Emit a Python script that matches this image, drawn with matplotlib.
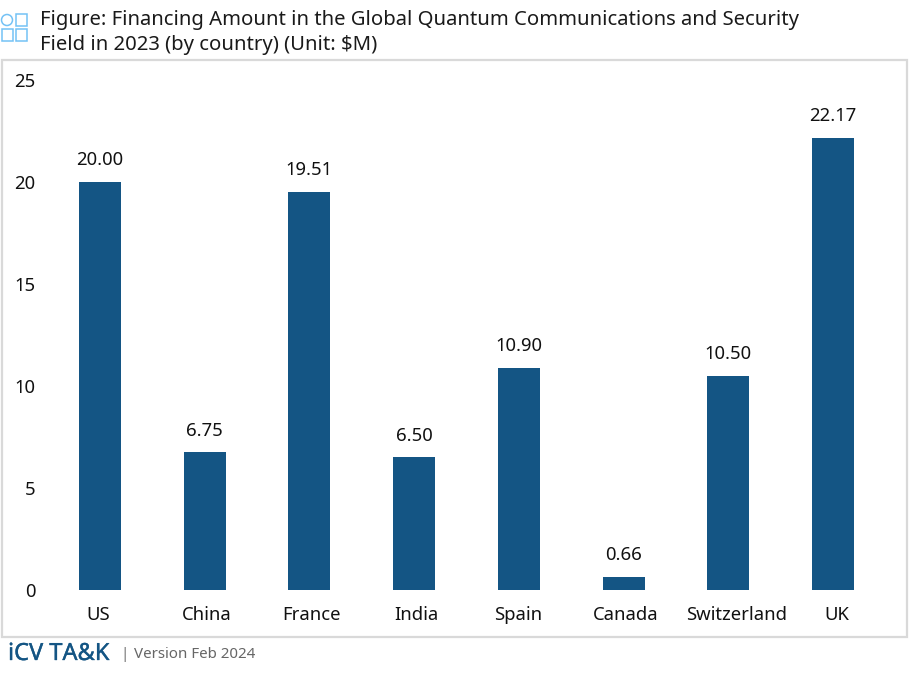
import matplotlib
matplotlib.use("Agg")
import matplotlib.pyplot as plt
import matplotlib.patheffects as pe
from matplotlib.patches import Ellipse, Rectangle
from matplotlib.transforms import ScaledTranslation

countries = ["US", "China", "France", "India", "Spain", "Canada", "Switzerland", "UK"]
amounts = [20.00, 6.75, 19.51, 6.50, 10.90, 0.66, 10.50, 22.17]
y_ticks = [0, 5, 10, 15, 20, 25]
title_lines = ["Figure: Financing Amount in the Global Quantum Communications and Security",
               "Field in 2023 (by country) (Unit: $M)"]

W, H = 909, 681
plt.rcParams['font.family'] = ['Noto Sans', 'DejaVu Sans']

fig = plt.figure(figsize=(W / 100, H / 100), dpi=100)


def fx(px):
    return px / W


def fy(px):
    return 1 - px / H


# outer frame, behind the axes
fig.add_artist(Rectangle((fx(2), fy(636.5)), fx(905), (636.5 - 60) / H, transform=fig.transFigure,
                         fc='white', ec='#d9d9d9', lw=1.6, zorder=-1))

# chart
ax = fig.add_axes([fx(47.5), fy(590), fx(838), (590 - 80) / H])
ax.patch.set_alpha(0)
x = range(len(countries))
bars = ax.bar(x, amounts, width=0.4, color='#145584')
ax.bar_label(bars, labels=[f"{v:.2f}" for v in amounts], padding=9, fontsize=13.3, color='#111111')
ax.set_xlim(-0.5, len(countries) - 0.5)
ax.set_ylim(0, 25)
ax.set_xticks(list(x), countries)
ax.set_yticks(y_ticks)
ax.tick_params(axis='both', length=0, labelsize=13.3, labelcolor='#111111')
ax.tick_params(axis='x', pad=11.5)
ax.tick_params(axis='y', pad=8.5)
for s in ax.spines.values():
    s.set_visible(False)

# x labels are not quite centred under the bars in the original
label_shift = [-1.5, 2.5, 2, 2.5, -1, 2, 8.5, 3.5]
for lab, dx in zip(ax.get_xticklabels(), label_shift):
    lab.set_transform(lab.get_transform() + ScaledTranslation(dx / 100, 0, fig.dpi_scale_trans))

# title
fig.text(fx(40), fy(20.5), title_lines[0], fontsize=14.6, color='#1a1a1a', va='center')
fig.text(fx(40), fy(45), title_lines[1], fontsize=14.6, color='#1a1a1a', va='center')

# title icon
icon = '#74c2f5'
fig.add_artist(Ellipse((fx(7), fy(20)), 11 / W, 11 / H, transform=fig.transFigure, fc='none', ec=icon, lw=1.1))
fig.add_artist(Rectangle((fx(16), fy(25.5)), 11 / W, 11 / H, transform=fig.transFigure, fc='none', ec=icon, lw=1.1))
fig.add_artist(Rectangle((fx(1.5), fy(40.5)), 11 / W, 11 / H, transform=fig.transFigure, fc='none', ec=icon, lw=1.1))
fig.add_artist(Rectangle((fx(16), fy(40.5)), 11 / W, 11 / H, transform=fig.transFigure, fc='none', ec=icon, lw=1.1))

# footer
fig.text(fx(8), fy(654), "iCV TA&K", fontsize=17, color='#145584', va='center',
         path_effects=[pe.withStroke(linewidth=0.25, foreground='#145584')])
fig.text(fx(120), fy(654), "|", fontsize=11, color='#777777', va='center')
fig.text(fx(134), fy(654), "Version Feb 2024", fontsize=10.9, color='#666666', va='center')

fig.savefig("out.png", dpi=100)
